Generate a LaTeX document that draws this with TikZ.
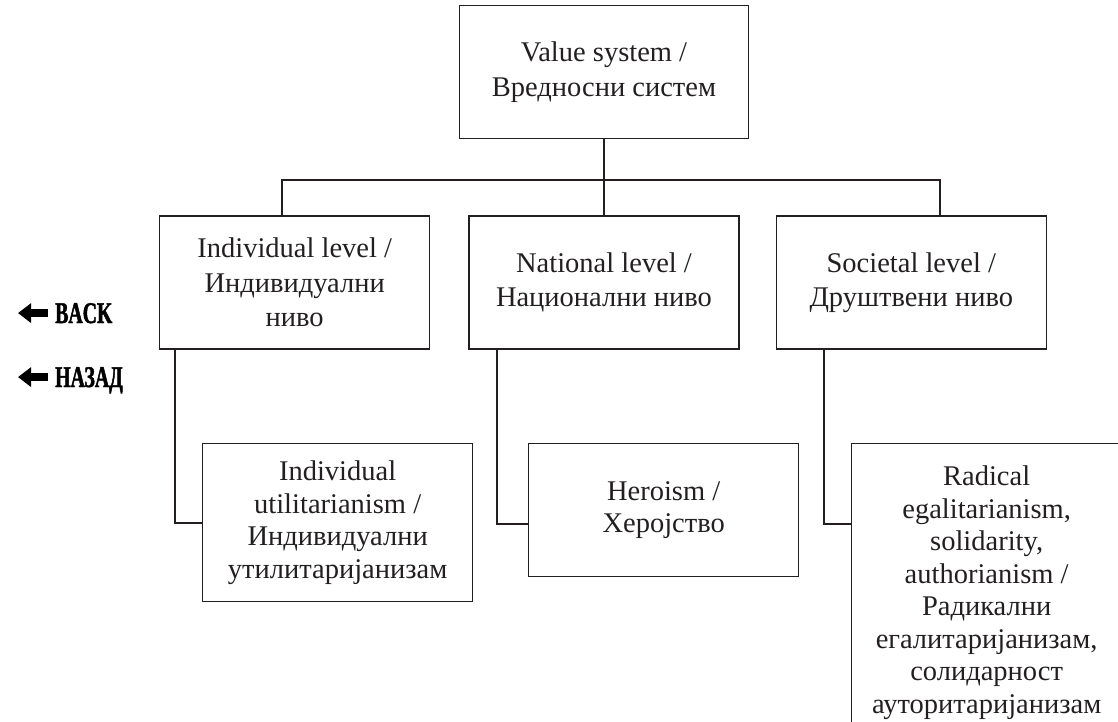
\documentclass[tikz,border=0pt]{standalone}
\usepackage{fontspec}
\setmainfont{Liberation Serif}
\newfontfamily\navfont[FakeStretch=0.66,FakeBold=1.5]{Liberation Serif Bold}
\usepackage{xcolor}
\usepackage{tikz}
\usetikzlibrary{arrows.meta,positioning,calc}
\definecolor{ink}{RGB}{35,31,32}

\begin{document}
\begin{tikzpicture}[
  x=1pt,y=-1pt,
  node distance=36pt,
  every node/.style={font=\fontsize{28.5}{34.5}\selectfont,align=center,text=ink},
  conceptbox/.style={draw=ink,line width=1.3pt,minimum width=270pt,minimum height=133pt,inner sep=0pt},
  leafbox/.style={conceptbox,anchor=north west,font=\fontsize{28.5}{32.5}\selectfont},
  link/.style={draw=ink,line width=2pt},
  navlabel/.style={font=\navfont\fontsize{30}{30}\selectfont,text=black,inner sep=0pt,text depth=0pt,anchor=base west},
  navarrow/.style={line width=8pt,-{Triangle[length=13pt,width=19pt]}}
]
\useasboundingbox (0,0) rectangle (1118,722);
\clip (0,0) rectangle (1118,722);

\node[conceptbox] (national) at (604,282.5) {National level /\\Национални ниво};
\node[conceptbox,left=38pt of national] (indiv) {Individual level /\\Индивидуални\\ниво};
\node[conceptbox,right=of national] (societal) {Societal level /\\Друштвени ниво};
\node[conceptbox,minimum width=289pt,above=76pt of national] (value) {Value system /\\Вредносни систем};

\node[leafbox,minimum height=158pt] (util) at (202,443) {Individual\\utilitarianism /\\Индивидуални\\утилитаријанизам};
\node[leafbox] (hero) at (528,443) {Heroism /\\Херојство};
\node[leafbox,minimum height=298pt] (radical) at (851,443) {Radical\\egalitarianism,\\solidarity,\\authorianism /\\Радикални\\егалитаријанизам,\\солидарност\\ауторитаријанизам};

\coordinate (bus) at ($(value.south)!0.54!(national.north)$);
\draw[link] (value) -- (national);
\draw[link] ([xshift=-13pt]indiv.north) |- (bus) -| ([xshift=29pt]societal.north);
\draw[link] ([xshift=16pt]indiv.south west) |- (util.west);
\draw[link] ([xshift=29pt]national.south west) |- ([yshift=-14pt]hero.west);
\draw[link] ([xshift=48pt]societal.south west) |- ([yshift=-81pt]radical.north west);

% back links
\node[navlabel] (back) at (55,323) {BACK};
\node[navlabel] (nazad) at (55,387) {НАЗАД};
\draw[navarrow] ([xshift=-7pt]back.west) -- ++(-30,0);
\draw[navarrow] ([xshift=-7pt]nazad.west) -- ++(-30,0);
\end{tikzpicture}
\end{document}
